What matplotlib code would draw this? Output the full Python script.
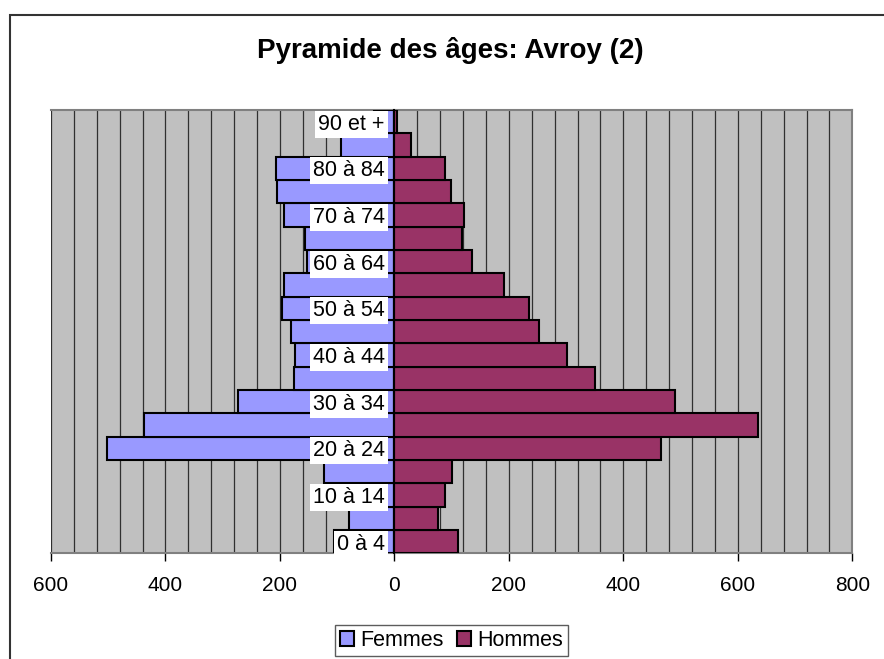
import matplotlib
matplotlib.use("Agg")
import matplotlib.pyplot as plt
from matplotlib.patches import Rectangle, Patch
from matplotlib.ticker import FixedLocator, FuncFormatter

plt.rcParams['font.family'] = ['Liberation Sans', 'DejaVu Sans']

categories = ["0 à 4", "5 à 9", "10 à 14", "15 à 19", "20 à 24", "25 à 29",
              "30 à 34", "35 à 39", "40 à 44", "45 à 49", "50 à 54", "55 à 59",
              "60 à 64", "65 à 69", "70 à 74", "75 à 79", "80 à 84", "85 à 89",
              "90 et +"]
femmes = [105, 79, 110, 123, 502, 438, 273, 176, 173, 181, 197, 193,
          152, 156, 193, 205, 207, 93, 35]
hommes = [111, 77, 88, 101, 466, 635, 490, 351, 301, 252, 235, 192,
          136, 118, 121, 98, 88, 29, 4]
xticks = [-600, -400, -200, 0, 200, 400, 600, 800]

W, H = 884, 659
fig = plt.figure(figsize=(W / 100, H / 100), dpi=100)
fig.patch.set_facecolor('white')

# chart-area border (extends beyond the image at right/bottom)
fig.patches.append(Rectangle((10 / W, -0.05), 1.2, 1 - 15 / H + 0.05,
                             transform=fig.transFigure, fill=False,
                             edgecolor='#333333', lw=1.5, zorder=0))

ax = fig.add_axes([51 / W, 1 - 553.3 / H, (852.3 - 51) / W, (553.3 - 110) / H])
ax.set_facecolor('#C0C0C0')

y = list(range(len(categories)))
ax.barh(y, [-v for v in femmes], height=1.0, color='#9999FF',
        edgecolor='black', lw=1.5, zorder=3, label='Femmes')
ax.barh(y, hommes, height=1.0, color='#993366',
        edgecolor='black', lw=1.5, zorder=3, label='Hommes')

ax.set_xlim(-600, 800)
ax.set_ylim(-0.5, len(categories) - 0.5)

# vertical gridlines every 40
ax.xaxis.set_minor_locator(FixedLocator(list(range(-600, 801, 40))))
ax.grid(True, axis='x', which='both', color='#303030', lw=0.9)
ax.set_axisbelow(True)
ax.yaxis.set_zorder(10)

ax.set_xticks(xticks)
ax.xaxis.set_major_formatter(FuncFormatter(lambda v, p: f"{abs(int(v))}"))
ax.tick_params(axis='x', which='major', length=6, width=1, color='black',
               labelsize=15, pad=10)
ax.tick_params(axis='x', which='minor', length=0)

for s in ['top', 'right', 'bottom']:
    ax.spines[s].set_color('#808080')
    ax.spines[s].set_linewidth(1.5)
ax.spines['left'].set_position(('data', 0))
ax.spines['left'].set_color('black')
ax.spines['left'].set_linewidth(1.5)
ax.spines['left'].set_zorder(11)

ax.set_yticks(y[::2])
ax.set_yticklabels(categories[::2])
ax.tick_params(axis='y', length=0, labelsize=15.5, pad=7)
for lbl in ax.get_yticklabels():
    lbl.set_bbox(dict(facecolor='white', edgecolor='none', pad=2.2))

fig.text(450 / W, 1 - 50 / H, "Pyramide des âges: Avroy (2)",
         ha='center', va='center', fontsize=20, fontweight='bold')

handles = [Patch(facecolor='#9999FF', edgecolor='black', lw=1.5, label='Femmes'),
           Patch(facecolor='#993366', edgecolor='black', lw=1.5, label='Hommes')]
leg = fig.legend(handles=handles, loc='center', ncol=2,
                 bbox_to_anchor=(451.5 / W, 1 - 640.5 / H),
                 fontsize=15.5, frameon=True, fancybox=False,
                 handlelength=0.65, handleheight=0.65, handletextpad=0.3,
                 columnspacing=0.6, borderpad=0.25, borderaxespad=0)
leg.get_frame().set_edgecolor('#333333')
leg.get_frame().set_linewidth(1.0)

fig.savefig('out.png', dpi=100)
